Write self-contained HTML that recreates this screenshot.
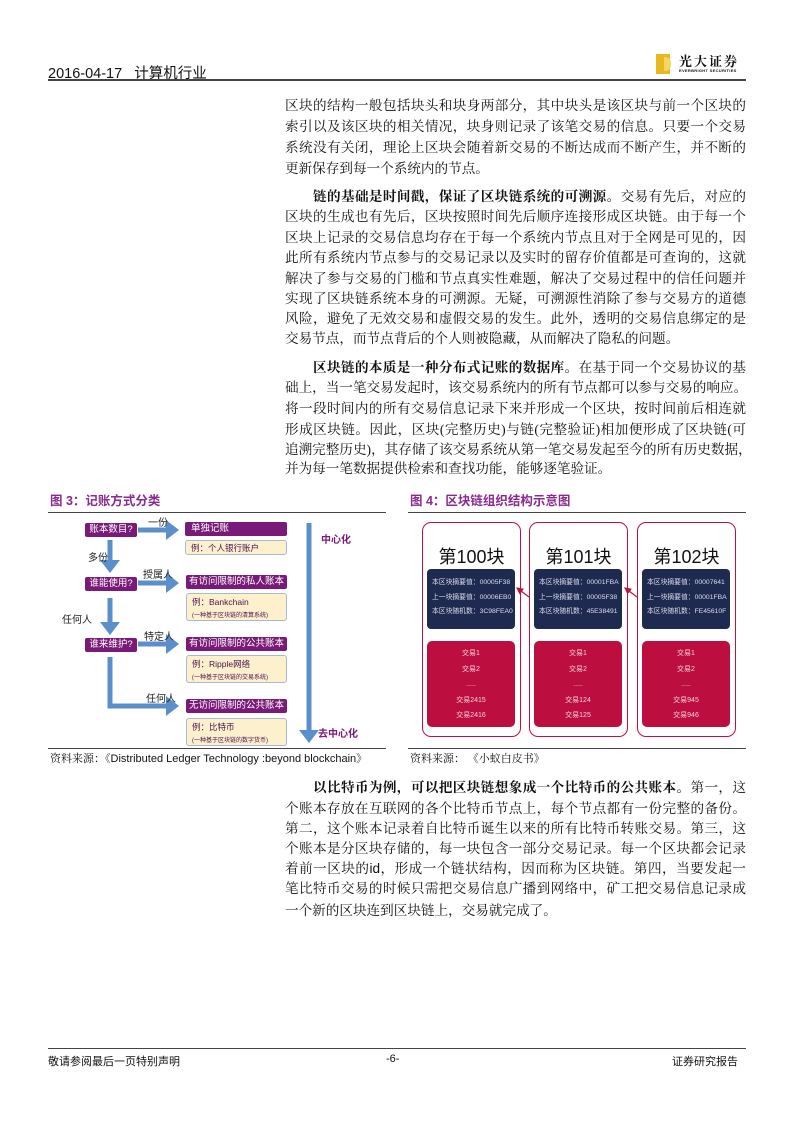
<!DOCTYPE html>
<html><head><meta charset="utf-8"><style>
*{margin:0;padding:0;box-sizing:border-box}
body{width:794px;height:1123px;position:relative;background:#fff;font-family:"Liberation Serif","Noto Serif CJK SC",serif;color:#111;overflow:hidden}
.a{position:absolute}
.ln{position:absolute;left:285px;width:461px;font-size:13.6px;line-height:16px;text-align:justify;text-align-last:justify;white-space:nowrap}
.ln.l{text-align-last:left}
.ln.i{left:313px;width:433px}
b{font-weight:bold}
.sans{font-family:"Liberation Sans","Noto Sans CJK SC",sans-serif}
.pb{position:absolute;background:#7a1a78;color:#fff;font-size:9.5px;line-height:14px;text-align:center;border-radius:2px;font-family:"Liberation Sans","Noto Sans CJK SC",sans-serif}
.yb{position:absolute;background:#fdf0cc;border:1px solid #a8b8d8;color:#4a1050;font-size:8.5px;line-height:12px;padding-left:5px;border-radius:3px;font-family:"Liberation Sans","Noto Sans CJK SC",sans-serif}
.lb{position:absolute;font-size:10px;font-family:"Liberation Sans","Noto Sans CJK SC",sans-serif;color:#222}
.ob{position:absolute;border:1.5px solid #c0103c;border-radius:9px;top:522px;width:99px;height:215px}
.ob .t{position:absolute;top:20px;width:100%;text-align:center;font-size:18px;font-family:"Liberation Sans","Noto Sans CJK SC",sans-serif}
.nv{position:absolute;left:4px;top:46px;width:88px;height:60px;background:#1e2a50;border-radius:4px;color:#dde;font-size:6.8px;line-height:14.5px;padding:7px 0 0 5px;font-family:"Liberation Sans","Noto Sans CJK SC",sans-serif;white-space:nowrap}
.rd{position:absolute;left:4px;top:118px;width:88px;height:86px;background:#bc0f3f;border-radius:5px;color:#f4d0da;font-size:7px;line-height:15.5px;padding-top:5px;text-align:center;font-family:"Liberation Sans","Noto Sans CJK SC",sans-serif}
</style></head><body>
<div class="a sans" style="left:48px;top:62px;font-size:14.5px">2016-04-17&nbsp;&nbsp;&nbsp;计算机行业</div>
<div class="a" style="left:48px;top:79px;width:698px;height:1.5px;background:#444"></div>
<div class="a" style="left:656px;top:54px;width:14px;height:20px;background:#e8b820"></div>
<div class="a" style="left:664px;top:57px;width:7px;height:14px;background:#f5d860;border-radius:0 6px 6px 0"></div>
<div class="a" style="left:679px;top:51px;font-size:13px;font-weight:bold;letter-spacing:2px">光大证券</div>
<div class="a sans" style="left:679px;top:68px;font-size:4px;font-weight:bold;letter-spacing:.3px">EVERBRIGHT SECURITIES</div>

<div class="ln" style="top:98px">区块的结构一般包括块头和块身两部分，其中块头是该区块与前一个区块的</div>
<div class="ln" style="top:119px">索引以及该区块的相关情况，块身则记录了该笔交易的信息。只要一个交易</div>
<div class="ln" style="top:140px">系统没有关闭，理论上区块会随着新交易的不断达成而不断产生，并不断的</div>
<div class="ln l" style="top:161px">更新保存到每一个系统内的节点。</div>
<div class="ln i" style="top:189px"><b>链的基础是时间戳，保证了区块链系统的可溯源。</b>交易有先后，对应的</div>
<div class="ln" style="top:209px">区块的生成也有先后，区块按照时间先后顺序连接形成区块链。由于每一个</div>
<div class="ln" style="top:230px">区块上记录的交易信息均存在于每一个系统内节点且对于全网是可见的，因</div>
<div class="ln" style="top:250px">此所有系统内节点参与的交易记录以及实时的留存价值都是可查询的，这就</div>
<div class="ln" style="top:271px">解决了参与交易的门槛和节点真实性难题，解决了交易过程中的信任问题并</div>
<div class="ln" style="top:291px">实现了区块链系统本身的可溯源。无疑，可溯源性消除了参与交易方的道德</div>
<div class="ln" style="top:311px">风险，避免了无效交易和虚假交易的发生。此外，透明的交易信息绑定的是</div>
<div class="ln l" style="top:331px">交易节点，而节点背后的个人则被隐藏，从而解决了隐私的问题。</div>
<div class="ln i" style="top:360px"><b>区块链的本质是一种分布式记账的数据库。</b>在基于同一个交易协议的基</div>
<div class="ln" style="top:380px">础上，当一笔交易发起时，该交易系统内的所有节点都可以参与交易的响应。</div>
<div class="ln" style="top:401px">将一段时间内的所有交易信息记录下来并形成一个区块，按时间前后相连就</div>
<div class="ln" style="top:422px">形成区块链。因此，区块(完整历史)与链(完整验证)相加便形成了区块链(可</div>
<div class="ln" style="top:442px">追溯完整历史)，其存储了该交易系统从第一笔交易发起至今的所有历史数据，</div>
<div class="ln l" style="top:461px">并为每一笔数据提供检索和查找功能，能够逐笔验证。</div>

<div class="a sans" style="left:50px;top:490px;font-size:12.5px;font-weight:bold;color:#8a2a90">图 3：记账方式分类</div>
<div class="a" style="left:48px;top:512px;width:338px;height:1px;background:#444"></div>
<div class="a sans" style="left:410px;top:490px;font-size:12.5px;font-weight:bold;color:#8a2a90">图 4：区块链组织结构示意图</div>
<div class="a" style="left:408px;top:512px;width:338px;height:1px;background:#444"></div>

<svg class="a" style="left:0;top:0" width="794" height="1123">
<defs><marker id="ah" markerWidth="4" markerHeight="4" refX="2" refY="2" orient="auto" markerUnits="strokeWidth"><path d="M0,0 L2.6,2 L0,4 z" fill="#5b8fcc"/></marker>
<marker id="rh" markerWidth="6" markerHeight="6" refX="5" refY="3" orient="auto"><path d="M0,0 L6,3 L0,6 z" fill="#c0103c"/></marker></defs>
<g stroke="#5b8fcc" stroke-width="5" fill="none" marker-end="url(#ah)">
<line x1="138" y1="530" x2="176" y2="530"/>
<line x1="110" y1="540" x2="110" y2="570"/>
<line x1="138" y1="583" x2="176" y2="583"/>
<line x1="110" y1="598" x2="110" y2="632"/>
<line x1="138" y1="644" x2="176" y2="644"/>
<polyline points="110,657 110,706 176,706"/>
<line x1="309" y1="523" x2="309" y2="740"/>
</g>
<g stroke="#c0103c" stroke-width="1.2">
<line x1="529" y1="597" x2="517" y2="588" marker-end="url(#rh)"/>
<line x1="637" y1="597" x2="625" y2="588" marker-end="url(#rh)"/>
</g>
</svg>
<div class="pb" style="left:85px;top:523px;width:52px">账本数目?</div>
<div class="pb" style="left:85px;top:577px;width:52px">谁能使用?</div>
<div class="pb" style="left:85px;top:638px;width:52px">谁来维护?</div>
<div class="lb" style="left:148px;top:514px">一份</div>
<div class="lb" style="left:88px;top:549px">多份</div>
<div class="lb" style="left:143px;top:566px">授属人</div>
<div class="lb" style="left:62px;top:611px">任何人</div>
<div class="lb" style="left:144px;top:628px">特定人</div>
<div class="lb" style="left:146px;top:690px">任何人</div>
<div class="pb" style="left:185px;top:522px;width:102px;padding-left:6px;text-align:left">单独记账</div>
<div class="yb" style="left:185px;top:540px;width:102px;height:15px;padding-top:1px">例：个人银行账户</div>
<div class="pb" style="left:186px;top:575px;width:101px">有访问限制的私人账本</div>
<div class="yb" style="left:186px;top:593px;width:101px;height:28px;padding-top:2px">例：Bankchain<br><span style="font-size:6px">(一种基于区块链的清算系统)</span></div>
<div class="pb" style="left:186px;top:637px;width:101px">有访问限制的公共账本</div>
<div class="yb" style="left:186px;top:655px;width:101px;height:28px;padding-top:2px">例：Ripple网络<br><span style="font-size:6px">(一种基于区块链的交易系统)</span></div>
<div class="pb" style="left:186px;top:699px;width:101px">无访问限制的公共账本</div>
<div class="yb" style="left:186px;top:718px;width:101px;height:28px;padding-top:2px">例：比特币<br><span style="font-size:6px">(一种基于区块链的数字货币)</span></div>
<div class="lb" style="left:321px;top:531px;color:#7a1a78;font-weight:bold">中心化</div>
<div class="lb" style="left:318px;top:725px;color:#7a1a78;font-weight:bold">去中心化</div>

<div class="ob" style="left:422px"><div class="t">第100块</div>
<div class="nv">本区块摘要值：00005F38<br>上一块摘要值：00006EB0<br>本区块随机数：3C98FEA0</div>
<div class="rd">交易1<br>交易2<br>.....<br>交易2415<br>交易2416</div></div>
<div class="ob" style="left:529px"><div class="t">第101块</div>
<div class="nv">本区块摘要值：00001FBA<br>上一块摘要值：00005F38<br>本区块随机数：45E38491</div>
<div class="rd">交易1<br>交易2<br>.....<br>交易124<br>交易125</div></div>
<div class="ob" style="left:637px"><div class="t">第102块</div>
<div class="nv">本区块摘要值：00007641<br>上一块摘要值：00001FBA<br>本区块随机数：FE45610F</div>
<div class="rd">交易1<br>交易2<br>.....<br>交易945<br>交易946</div></div>

<div class="a" style="left:48px;top:748px;width:338px;height:1px;background:#444"></div>
<div class="a" style="left:408px;top:748px;width:338px;height:1px;background:#444"></div>
<div class="a" style="left:50px;top:750px;font-size:11px;white-space:nowrap">资料来源：《<span class="sans">Distributed Ledger Technology :beyond blockchain</span>》</div>
<div class="a" style="left:410px;top:750px;font-size:11px">资料来源：&nbsp;《小蚁白皮书》</div>

<div class="ln i" style="top:780px"><b>以比特币为例，可以把区块链想象成一个比特币的公共账本。</b>第一，这</div>
<div class="ln" style="top:801px">个账本存放在互联网的各个比特币节点上，每个节点都有一份完整的备份。</div>
<div class="ln" style="top:821px">第二，这个账本记录着自比特币诞生以来的所有比特币转账交易。第三，这</div>
<div class="ln" style="top:841px">个账本是分区块存储的，每一块包含一部分交易记录。每一个区块都会记录</div>
<div class="ln" style="top:861px">着前一区块的<span class="sans">id</span>，形成一个链状结构，因而称为区块链。第四，当要发起一</div>
<div class="ln" style="top:881px">笔比特币交易的时候只需把交易信息广播到网络中，矿工把交易信息记录成</div>
<div class="ln l" style="top:903px">一个新的区块连到区块链上，交易就完成了。</div>

<div class="a" style="left:48px;top:1048px;width:698px;height:1px;background:#444"></div>
<div class="a sans" style="left:48px;top:1053px;font-size:11px">敬请参阅最后一页特别声明</div>
<div class="a sans" style="left:386px;top:1053px;font-size:11px">-6-</div>
<div class="a sans" style="left:672px;top:1053px;font-size:11px">证券研究报告</div>
</body></html>
